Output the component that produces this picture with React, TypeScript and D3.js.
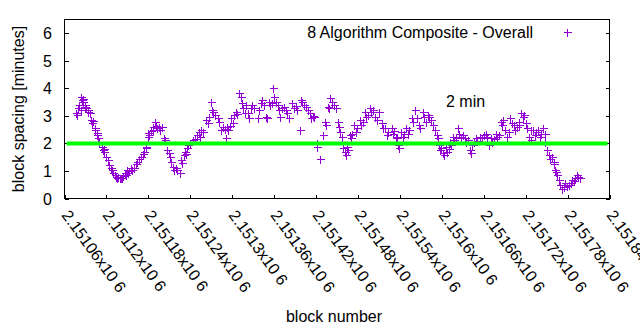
import React from 'react';
import * as d3 from 'd3';

const blocks = [
  2151077, 2151078, 2151079, 2151081, 2151083, 2151084, 2151085, 2151086, 2151087, 2151089,
  2151090, 2151091, 2151093, 2151094, 2151096, 2151098, 2151100, 2151101, 2151103, 2151104,
  2151106, 2151107, 2151108, 2151110, 2151113, 2151115, 2151116, 2151117, 2151120, 2151122,
  2151124, 2151126, 2151128, 2151130, 2151132, 2151133, 2151135, 2151137, 2151139, 2151141,
  2151143, 2151144, 2151146, 2151148, 2151150, 2151151, 2151153, 2151155, 2151157, 2151159,
  2151162, 2151164, 2151167, 2151170, 2151172, 2151174, 2151176, 2151177, 2151179, 2151180,
  2151181, 2151184, 2151186, 2151187, 2151189, 2151191, 2151193, 2151195, 2151197, 2151199,
  2151202, 2151204, 2151207, 2151209, 2151211, 2151213, 2151215, 2151217, 2151219, 2151221,
  2151225, 2151227, 2151228, 2151231, 2151232, 2151234, 2151236, 2151237, 2151240, 2151244,
  2151247, 2151250, 2151252, 2151254, 2151256, 2151258, 2151263, 2151265, 2151267, 2151270,
  2151271, 2151273, 2151276, 2151279, 2151281, 2151284, 2151287, 2151289, 2151291, 2151292,
  2151294, 2151297, 2151299, 2151301, 2151303, 2151305, 2151307, 2151310, 2151312, 2151314,
  2151316, 2151318, 2151320, 2151322, 2151324, 2151327, 2151329, 2151331, 2151337, 2151339,
  2151341, 2151343, 2151345, 2151349, 2151350, 2151352, 2151354, 2151357, 2151359, 2151360,
  2151362, 2151365, 2151367, 2151369, 2151371, 2151374, 2151377, 2151379, 2151382, 2151386,
  2151388, 2151391, 2151393, 2151397, 2151398, 2151400, 2151403, 2151406, 2151408, 2151411,
  2151413, 2151415, 2151417, 2151421, 2151422, 2151425, 2151430, 2151433, 2151434, 2151437,
  2151438, 2151440, 2151443, 2151445, 2151448, 2151452, 2151453, 2151455, 2151457, 2151459,
  2151461, 2151463, 2151464, 2151466, 2151468, 2151470, 2151472, 2151475, 2151477, 2151479,
  2151483, 2151485, 2151487, 2151490, 2151492, 2151494, 2151497, 2151499, 2151501, 2151505,
  2151507, 2151510, 2151514, 2151516, 2151519, 2151521, 2151523, 2151528, 2151530, 2151532,
  2151535, 2151536, 2151538, 2151539, 2151542, 2151544, 2151546, 2151549, 2151551, 2151553,
  2151557, 2151559, 2151561, 2151565, 2151567, 2151569, 2151573, 2151575, 2151577, 2151580,
  2151582, 2151584, 2151588, 2151590, 2151593, 2151594, 2151596, 2151597, 2151599, 2151602,
  2151603, 2151606, 2151608, 2151610, 2151612, 2151613, 2151616, 2151618, 2151620, 2151623,
  2151625, 2151627, 2151630, 2151633, 2151635, 2151638, 2151641, 2151642, 2151643, 2151646,
  2151649, 2151651, 2151654, 2151657, 2151660, 2151663, 2151665, 2151667, 2151670, 2151672,
  2151675, 2151677, 2151679, 2151682, 2151684, 2151686, 2151688, 2151691, 2151693, 2151696,
  2151698, 2151700, 2151703, 2151705, 2151708, 2151710, 2151711, 2151714, 2151716, 2151718,
  2151720, 2151722, 2151725, 2151727, 2151728, 2151731, 2151733, 2151735, 2151738, 2151740,
  2151742, 2151745, 2151747, 2151748, 2151750, 2151753, 2151755, 2151757, 2151760, 2151761,
  2151762, 2151763, 2151765, 2151768, 2151769, 2151772, 2151775, 2151777, 2151779, 2151782,
  2151785, 2151786, 2151789, 2151791, 2151793, 2151795, 2151798,
];

const spacing = [
  3.09, 3.03, 3.27, 3.39, 3.20, 3.69, 3.58, 3.51, 3.62, 3.39,
  3.33, 3.28, 3.15, 3.22, 3.09, 2.85, 2.74, 2.80, 2.56, 2.48,
  2.37, 2.30, 2.18, 2.05, 1.87, 1.76, 1.80, 1.70, 1.51, 1.39,
  1.21, 1.10, 1.03, 0.92, 0.85, 0.79, 0.76, 0.79, 0.73, 0.76,
  0.73, 0.80, 0.91, 0.86, 1.03, 0.92, 1.00, 1.10, 1.03, 1.12,
  1.25, 1.33, 1.42, 1.51, 1.60, 1.70, 1.87, 1.83, 2.25, 2.37,
  2.30, 2.45, 2.59, 2.48, 2.79, 2.65, 2.55, 2.60, 2.50, 2.58,
  2.19, 2.12, 1.76, 1.65, 1.50, 1.33, 1.15, 1.03, 1.10, 1.05,
  0.91, 1.39, 1.28, 1.58, 1.70, 1.62, 1.83, 1.94, 2.00, 2.12,
  2.15, 2.30, 2.42, 2.24, 2.48, 2.40, 2.85, 2.73, 2.95, 3.51,
  3.21, 3.15, 3.05, 2.92, 2.79, 2.48, 2.60, 2.52, 2.18, 2.60,
  2.50, 2.65, 2.92, 2.74, 3.03, 3.15, 3.08, 3.82, 3.70, 3.46,
  3.28, 3.09, 3.40, 3.09, 2.91, 3.27, 3.39, 3.30, 2.91, 3.20,
  3.45, 3.57, 3.40, 2.97, 2.91, 3.51, 3.39, 3.45, 4.00, 3.69,
  3.50, 3.39, 3.21, 2.97, 3.30, 3.33, 3.21, 3.10, 2.91, 3.45,
  3.27, 3.35, 3.20, 2.48, 3.57, 3.51, 3.40, 3.33, 3.21, 3.09,
  2.91, 3.00, 2.95, 2.00, 1.88, 1.45, 2.30, 2.79, 2.67, 3.33,
  3.27, 3.64, 3.51, 3.40, 3.27, 2.79, 2.60, 2.42, 2.24, 1.82,
  1.70, 1.58, 1.88, 1.75, 2.30, 2.18, 2.35, 2.67, 2.42, 2.55,
  2.85, 2.67, 2.78, 3.15, 2.97, 3.05, 3.27, 3.15, 3.22, 2.97,
  2.85, 3.15, 2.73, 2.55, 2.55, 2.30, 2.42, 2.55, 2.36, 2.45,
  2.24, 2.18, 1.94, 1.82, 2.42, 2.24, 2.35, 2.55, 2.36, 2.48,
  2.91, 2.79, 3.21, 2.91, 2.67, 2.55, 3.15, 2.95, 2.79, 3.05,
  2.97, 2.85, 2.67, 2.48, 2.30, 2.18, 1.94, 1.76, 1.85, 1.64,
  1.58, 1.88, 1.70, 1.80, 2.06, 1.94, 2.24, 2.12, 2.20, 2.55,
  2.36, 2.24, 2.30, 2.18, 2.06, 2.12, 1.76, 1.64, 1.94, 2.06,
  2.18, 2.10, 2.24, 2.18, 2.30, 2.36, 2.24, 1.94, 2.18, 2.06,
  2.15, 2.36, 2.24, 2.30, 2.79, 2.67, 2.85, 2.48, 2.24, 2.40,
  2.91, 2.73, 2.67, 2.48, 2.60, 2.79, 2.67, 3.09, 2.97, 3.02,
  2.73, 2.55, 2.24, 2.12, 2.48, 2.48, 2.30, 2.40, 2.48, 2.24,
  2.36, 2.55, 2.36, 2.06, 1.76, 1.58, 1.45, 1.50, 1.33, 1.27,
  1.03, 0.97, 0.85, 0.67, 0.48, 0.36, 0.42, 0.55, 0.45, 0.50,
  0.55, 0.67, 0.62, 0.73, 0.85, 0.78, 0.73,
];

const xTickValues = [
  2151060, 2151120, 2151180, 2151240, 2151300, 2151360, 2151420,
  2151480, 2151540, 2151600, 2151660, 2151720, 2151780, 2151840,
];
const xTickLabels = [
  '2.15106x10 6', '2.15112x10 6', '2.15118x10 6', '2.15124x10 6', '2.1513x10 6',
  '2.15136x10 6', '2.15142x10 6', '2.15148x10 6', '2.15154x10 6', '2.1516x10 6',
  '2.15166x10 6', '2.15172x10 6', '2.15178x10 6', '2.15184x10 6',
];
const yTickValues = [0, 1, 2, 3, 4, 5, 6];
const targetSpacing = 2;
const legendLabel = '8 Algorithm Composite - Overall';
const targetLabel = '2 min';
const xAxisTitle = 'block number';
const yAxisTitle = 'block spacing [minutes]';

const FONT = "'Liberation Sans', Arial, sans-serif";
const PURPLE = '#9400d3';

export default function App() {
  const W = 640;
  const H = 330;
  const L = 64.5, R = 609.5, T = 19.5, B = 198.5;
  const x = d3.scaleLinear().domain([2151060, 2151840]).range([L, R]);
  const y = d3.scaleLinear().domain([0, 6.5]).range([B, T]);
  const tick = 4;

  const plus = (px: number, py: number, s = 4) => {
    const cx = Math.round(px) + 0.5;
    const cy = Math.round(py) + 0.5;
    return `M${cx - s},${cy}H${cx + s}M${cx},${cy - s}V${cy + s}`;
  };

  const pointsPath = blocks.map((b, i) => plus(x(b), y(spacing[i]))).join('');
  const line = d3.line<number>().x((d) => d).y(() => y(targetSpacing));
  const targetPath = line([L + 2, R - 2]) || '';

  return (
    <svg width={W} height={H} style={{ position: 'absolute', left: 0, top: 0, background: '#fff' }}
      fontFamily={FONT} fontSize={16}>
      <rect x={0} y={0} width={W} height={H} fill="#fff" />
      {/* y ticks (mirrored) */}
      {yTickValues.map((v) => {
        const py = Math.round(y(v)) + 0.5;
        return (
          <g key={'y' + v}>
            <line x1={L} x2={L + tick} y1={py} y2={py} stroke="#000" shapeRendering="crispEdges" />
            <line x1={R} x2={R - tick} y1={py} y2={py} stroke="#000" shapeRendering="crispEdges" />
            <text x={52} y={py} textAnchor="end" dominantBaseline="central" fill="#000">{v}</text>
          </g>
        );
      })}
      {/* x ticks */}
      {xTickValues.map((v, i) => {
        const px = Math.round(x(v)) + 0.5;
        return (
          <g key={'x' + v}>
            <line x1={px} x2={px} y1={B} y2={B - tick} stroke="#000" shapeRendering="crispEdges" />
            <text x={0} y={0} dominantBaseline="central" fill="#000"
              transform={`translate(${px},${212}) rotate(54)`}>{xTickLabels[i]}</text>
          </g>
        );
      })}
      {/* data */}
      <path d={pointsPath} stroke={PURPLE} strokeWidth={1} fill="none" shapeRendering="crispEdges" />
      {/* target line */}
      <path d={targetPath} stroke="#00ff00" strokeWidth={4} fill="none" />
      {/* border */}
      <rect x={L} y={T} width={R - L} height={B - T} fill="none" stroke="#000" shapeRendering="crispEdges" />
      {/* legend */}
      <text x={533} y={32} textAnchor="end" dominantBaseline="central" fill="#000">{legendLabel}</text>
      <path d={plus(567, 32)} stroke={PURPLE} strokeWidth={1} fill="none" shapeRendering="crispEdges" />
      {/* target label */}
      <text x={446} y={101} dominantBaseline="central" fill="#000">{targetLabel}</text>
      {/* axis titles */}
      <text x={334} y={316} textAnchor="middle" dominantBaseline="central" fill="#000">{xAxisTitle}</text>
      <text transform={`translate(18,${(T + B) / 2}) rotate(-90)`} textAnchor="middle" dominantBaseline="central" fill="#000">{yAxisTitle}</text>
    </svg>
  );
}
